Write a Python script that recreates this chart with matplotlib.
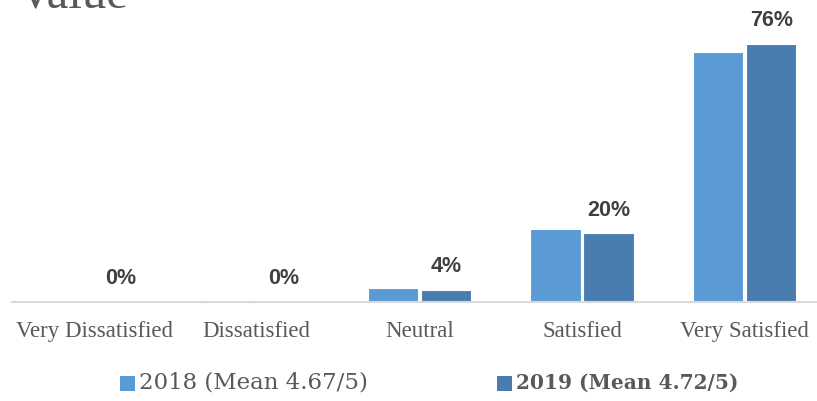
import numpy as np
import matplotlib
matplotlib.use("Agg")
import matplotlib.pyplot as plt
from matplotlib.patches import Rectangle

categories = ['Very Dissatisfied', 'Dissatisfied', 'Neutral', 'Satisfied', 'Very Satisfied']
pct_2018 = [0.0, 0.6, 4.2, 21.4, 73.6]
pct_2019 = [0.0, 0.0, 3.6, 20.2, 76.0]
labels_2019 = ['0%', '0%', '4%', '20%', '76%']
legend_labels = ['2018 (Mean 4.67/5)', '2019 (Mean 4.72/5)']

c2018 = '#5B9BD5'
c2019 = '#497DB0'
grey = '#595959'
serif = ['Liberation Serif', 'DejaVu Serif']

fig = plt.figure(figsize=(8.17, 4.01), dpi=100)
ax = fig.add_axes([12 / 817, 99 / 401, 805 / 817, 272 / 401])

x = np.arange(len(categories))
w = 0.31
off = 0.163
ax.bar(x - off, pct_2018, w, color=c2018, edgecolor='white', linewidth=0.8)
ax.bar(x + off, pct_2019, w, color=c2019, edgecolor='white', linewidth=0.8)

for xi, v, lab in zip(x, pct_2019, labels_2019):
    ax.text(xi + off, v + 6.8, lab, ha='center', va='center', fontsize=15.5,
            fontweight='bold', color='#404040', family=['Liberation Sans', 'DejaVu Sans'])

ax.set_xlim(-0.505, 4.445)
ax.set_ylim(0, 80)
ax.set_yticks([])
ax.set_xticks(x)
ax.set_xticklabels(categories, fontsize=16.5, color=grey, family=serif)
ax.tick_params(axis='x', length=0, pad=14)
for side in ['top', 'right', 'left']:
    ax.spines[side].set_visible(False)
ax.spines['bottom'].set_color('#D9D9D9')
ax.spines['bottom'].set_linewidth(1.5)

fig.text(18 / 817, 1 - 7 / 401, 'Value', fontsize=35, color=grey, family=serif,
         ha='left', va='baseline')

# legend drawn by hand so the two entries sit where they should
legend_y = 1 - 383 / 401
for left, col, lab, bold in [(120, c2018, legend_labels[0], False),
                             (497, c2019, legend_labels[1], True)]:
    fig.patches.append(Rectangle((left / 817, legend_y - 7.5 / 401), 15 / 817, 15 / 401,
                                 facecolor=col, transform=fig.transFigure))
    fig.text((left + 19) / 817, legend_y, lab, fontsize=14.5 if bold else 16.5,
             color=grey, family=['DejaVu Serif'], fontweight='bold' if bold else 'normal',
             va='center', ha='left')

fig.savefig('out.png', dpi=100)
